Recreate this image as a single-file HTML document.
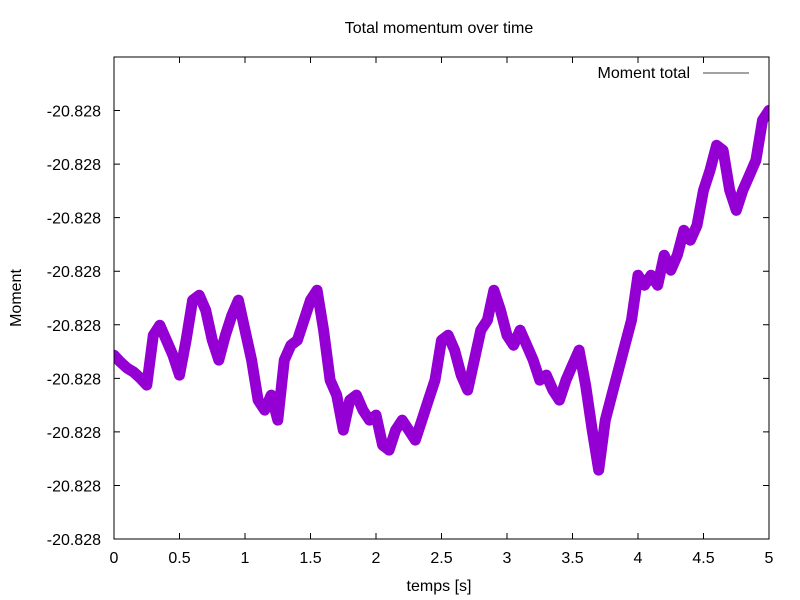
<!DOCTYPE html>
<html><head><meta charset="utf-8"><style>
body{margin:0;background:#fff}
svg{display:block;font-family:"Liberation Sans",sans-serif;font-size:16px}
</style></head><body>
<svg id="chart" width="800" height="600">
<defs><clipPath id="pc"><rect x="114" y="57" width="655" height="482"/></clipPath></defs>
<text x="439" y="33" text-anchor="middle">Total momentum over time</text>
<text x="439" y="591" text-anchor="middle">temps [s]</text>
<text transform="translate(21,298) rotate(-90)" text-anchor="middle">Moment</text>
<g id="ticks"></g>
<g id="series" clip-path="url(#pc)"></g>
<rect x="114" y="57" width="655" height="482" fill="none" stroke="#000"/>
<g>
<text x="690" y="78" text-anchor="end">Moment total</text>
<line x1="703" y1="73" x2="749" y2="73" stroke="#444"/>
</g>
</svg>
<script>
const times=[];for(let i=0;i<=100;i++)times.push(i*0.05);
// values in tick-step units above bottom of axis
const pixelsRead=[355,362,368,372,378,385,335,325,340,355,375,340,300,295,310,340,360,335,315,300,330,360,400,410,395,420,360,345,340,320,300,290,330,380,395,430,400,395,410,420,415,445,450,430,420,430,440,420,400,380,340,335,350,375,390,360,330,320,290,310,335,345,330,345,360,380,375,390,400,380,365,350,385,430,470,420,395,370,345,320,275,285,275,285,255,270,255,230,240,225,190,170,145,150,190,210,190,175,160,120,110];
const values=pixelsRead.map(p=>(539-p)/53.6);
const xTicks=[0,0.5,1,1.5,2,2.5,3,3.5,4,4.5,5];
const xTickLabels=["0","0.5","1","1.5","2","2.5","3","3.5","4","4.5","5"];
const yTicks=[0,1,2,3,4,5,6,7,8];
const yTickLabels=["-20.828","-20.828","-20.828","-20.828","-20.828","-20.828","-20.828","-20.828","-20.828"];
const X=t=>114+t/5*655;
const Y=v=>539-v*(482/9);
const NS="http://www.w3.org/2000/svg";
const tg=document.getElementById('ticks');
xTicks.forEach((t,i)=>{
 const l=document.createElementNS(NS,'path');
 l.setAttribute('d',`M${X(t)},539v-6M${X(t)},57v6`);l.setAttribute('stroke','#000');
 
 
 tg.appendChild(l);
 const tx=document.createElementNS(NS,'text');
 tx.setAttribute('x',X(t));tx.setAttribute('y',563);tx.setAttribute('text-anchor','middle');tx.textContent=xTickLabels[i];
 
 
 tg.appendChild(tx);
});
yTicks.forEach((v,i)=>{
 const l=document.createElementNS(NS,'path');
 l.setAttribute('d',`M114,${Y(v)}h6M769,${Y(v)}h-6`);l.setAttribute('stroke','#000');
 
 
 tg.appendChild(l);
 const tx=document.createElementNS(NS,'text');
 tx.setAttribute('x',101);tx.setAttribute('y',Y(v)+6);tx.setAttribute('text-anchor','end');tx.textContent=yTickLabels[i];
 
 
 tg.appendChild(tx);
});
const d=times.map((t,i)=>(i?'L':'M')+X(t).toFixed(1)+','+Y(values[i]).toFixed(1)).join('');
const p=document.createElementNS(NS,'path');
p.setAttribute('d',d);p.setAttribute('fill','none');p.setAttribute('stroke','#9400d3');
p.setAttribute('stroke-width','11');p.setAttribute('stroke-linejoin','round');p.setAttribute('stroke-linecap','round');


document.getElementById('series').appendChild(p);
</script>
</body></html>
